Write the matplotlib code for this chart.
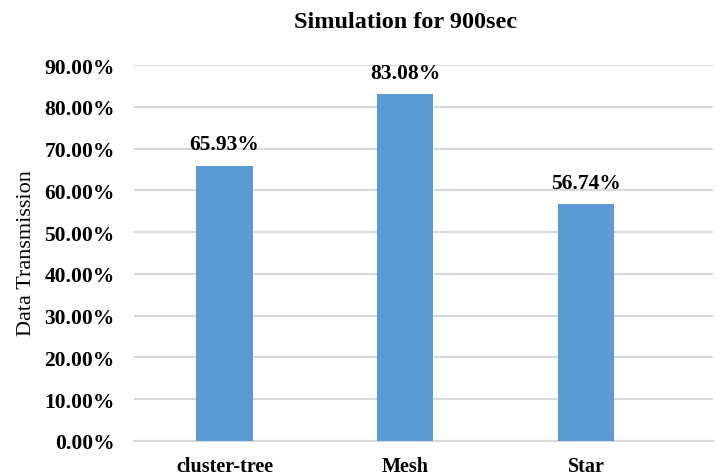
import matplotlib.pyplot as plt
from matplotlib.ticker import PercentFormatter

plt.rcParams['font.family'] = ['Liberation Serif', 'DejaVu Serif']

# data
categories = ['cluster-tree', 'Mesh', 'Star']
transmission = [0.6593, 0.8308, 0.5674]
yticks = [0.0, 0.1, 0.2, 0.3, 0.4, 0.5, 0.6, 0.7, 0.8, 0.9]

fig = plt.figure(figsize=(7.17, 4.77), dpi=100)
ax = fig.add_axes([0.187, 0.0734, 0.807, 0.7882])

x = range(len(categories))
bars = ax.bar(x, transmission, width=0.31, color='#5B9BD5', zorder=3)

for b, v in zip(bars, transmission):
    ax.annotate('%.2f%%' % (v * 100), (b.get_x() + b.get_width() / 2, v),
                xytext=(0, 8), textcoords='offset points',
                ha='center', va='bottom', fontsize=15.5, fontweight='bold')

ax.set_ylim(0, 0.9)
ax.set_xlim(-0.5, 2.7)
ax.set_yticks(yticks)
ax.yaxis.set_major_formatter(PercentFormatter(1.0, decimals=2))
ax.set_xticks(list(x))
ax.set_xticklabels(categories)
ax.grid(axis='y', color='#d9d9d9', linewidth=1.5, zorder=0)
for s in ['top', 'right', 'left']:
    ax.spines[s].set_visible(False)
ax.spines['bottom'].set_color('#d9d9d9')
ax.spines['bottom'].set_linewidth(1.5)
ax.tick_params(axis='both', length=0)
ax.tick_params(axis='y', labelsize=15.5, pad=14)
ax.tick_params(axis='x', labelsize=14.5, pad=11)
for lab in ax.get_xticklabels() + ax.get_yticklabels():
    lab.set_fontweight('bold')

fig.text(27 / 717, 1 - 253 / 477, 'Data Transmission',
         rotation=90, ha='center', va='center', fontsize=16)
fig.text(406 / 717, 1 - 23 / 477, 'Simulation for 900sec',
         ha='center', va='center', fontsize=17.5, fontweight='bold')

fig.savefig('out.png', dpi=100)
